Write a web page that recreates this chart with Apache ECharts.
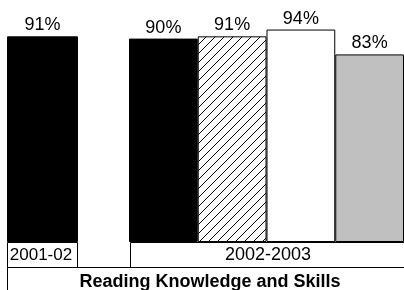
<!DOCTYPE html>
<html>
<head>
<meta charset="utf-8">
<script src="https://cdn.jsdelivr.net/npm/echarts@6/dist/echarts.min.js"></script>
<style>
html,body{margin:0;padding:0;background:#fff;}
#c{width:404px;height:290px;}
</style>
</head>
<body>
<div id="c"></div>
<script>
// ---- data ----
const groupLabels = ['2001-02', '2002-2003'];
const footerLabel = 'Reading Knowledge and Skills';
const cats2001 = ['2001-02'];
const vals2001 = [91];
const cats2002 = ['A', 'B', 'C', 'D'];
const vals2002 = [90, 91, 94, 83];

// ---- styles ----
const FONT = '"Liberation Sans", Arial, Helvetica, sans-serif';
function hatch() {
  const s = 9;
  const cv = document.createElement('canvas');
  cv.width = s; cv.height = s;
  const ctx = cv.getContext('2d');
  ctx.fillStyle = '#fff';
  ctx.fillRect(0, 0, s, s);
  ctx.strokeStyle = '#000';
  ctx.lineWidth = 1;
  ctx.beginPath();
  ctx.moveTo(-1, s + 1); ctx.lineTo(s + 1, -1);
  ctx.moveTo(-1, 1); ctx.lineTo(1, -1);
  ctx.moveTo(s - 1, s + 1); ctx.lineTo(s + 1, s - 1);
  ctx.stroke();
  return { image: cv, repeat: 'repeat' };
}
const fills2002 = ['#000', hatch(), '#fff', '#c0c0c0'];

const chart = echarts.init(document.getElementById('c'), null, { renderer: 'canvas' });

const labelCfg = {
  show: true, position: 'top', distance: 2,
  formatter: '{c}%', color: '#000', fontSize: 18, fontFamily: FONT
};
const yAx = (i) => ({ type: 'value', gridIndex: i, min: 0, max: 100, show: false });
const xAx = (i, d) => ({
  type: 'category', gridIndex: i, data: d,
  axisLine: { show: false }, axisTick: { show: false }, axisLabel: { show: false }, splitLine: { show: false }
});

const rowTop = 242, rowH = 25, footTop = 267;

chart.setOption({
  animation: false,
  backgroundColor: '#fff',
  grid: [
    { left: 7, width: 71, top: 16, bottom: 290 - rowTop },
    { left: 129, width: 280, top: 16, bottom: 290 - rowTop }
  ],
  xAxis: [xAx(0, cats2001), xAx(1, cats2002)],
  yAxis: [yAx(0), yAx(1)],
  series: [
    {
      type: 'bar', xAxisIndex: 0, yAxisIndex: 0, barWidth: '100%',
      data: vals2001.map(v => ({ value: v, itemStyle: { color: '#000' } })),
      itemStyle: { borderColor: '#000', borderWidth: 1 },
      label: labelCfg
    },
    {
      type: 'bar', xAxisIndex: 1, yAxisIndex: 1, barWidth: '100%',
      data: vals2002.map((v, i) => ({ value: v, itemStyle: { color: fills2002[i] } })),
      itemStyle: { borderColor: '#000', borderWidth: 1 },
      label: labelCfg
    }
  ],
  graphic: [
    { type: 'rect', shape: { x: 7.5, y: rowTop + 0.5, width: 70, height: rowH },
      style: { fill: '#fff', stroke: '#000', lineWidth: 1 } },
    { type: 'rect', shape: { x: 130.5, y: rowTop + 0.5, width: 290, height: rowH },
      style: { fill: '#fff', stroke: '#000', lineWidth: 1 } },
    { type: 'rect', shape: { x: 7.5, y: footTop + 0.5, width: 420, height: 40 },
      style: { fill: '#fff', stroke: '#000', lineWidth: 1 } },
    { type: 'text', x: 41, y: rowTop + 13,
      style: { text: groupLabels[0], fill: '#000', font: '17px ' + FONT, textAlign: 'center', textVerticalAlign: 'middle' } },
    { type: 'text', x: 268, y: rowTop + 13,
      style: { text: groupLabels[1], fill: '#000', font: '18px ' + FONT, textAlign: 'center', textVerticalAlign: 'middle' } },
    { type: 'text', x: 210, y: footTop + 15,
      style: { text: footerLabel, fill: '#000', font: 'bold 18px ' + FONT, textAlign: 'center', textVerticalAlign: 'middle' } }
  ]
});
</script>
</body>
</html>
